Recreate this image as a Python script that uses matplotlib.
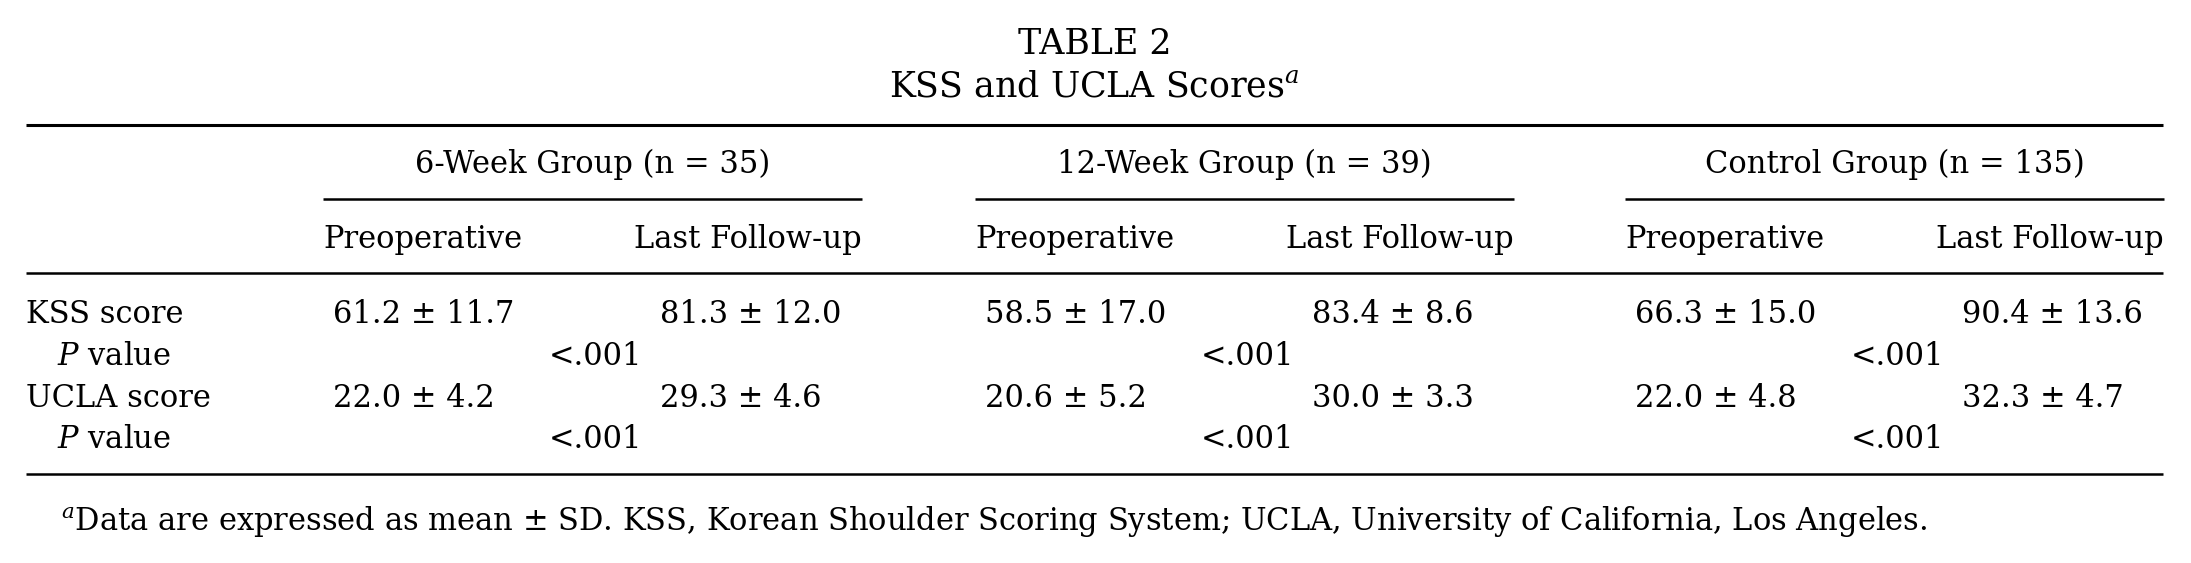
import matplotlib
matplotlib.use("Agg")
import matplotlib.pyplot as plt

plt.rcParams['font.family'] = 'DejaVu Serif'
plt.rcParams['mathtext.fontset'] = 'custom'
plt.rcParams['mathtext.rm'] = 'DejaVu Serif'
plt.rcParams['mathtext.it'] = 'DejaVu Serif:italic'

# table content
groups = ["6-Week Group (n = 35)", "12-Week Group (n = 39)", "Control Group (n = 135)"]
subheads = ["Preoperative", "Last Follow-up"]
rows = ["KSS score", "UCLA score"]
kss_pre = [61.2, 58.5, 66.3]
kss_pre_sd = [11.7, 17.0, 15.0]
kss_last = [81.3, 83.4, 90.4]
kss_last_sd = [12.0, 8.6, 13.6]
ucla_pre = [22.0, 20.6, 22.0]
ucla_pre_sd = [4.2, 5.2, 4.8]
ucla_last = [29.3, 30.0, 32.3]
ucla_last_sd = [4.6, 3.3, 4.7]
p_kss = ["<.001", "<.001", "<.001"]
p_ucla = ["<.001", "<.001", "<.001"]
footnote = ("$^{a}$Data are expressed as mean \u00b1 SD. KSS, Korean Shoulder Scoring System; "
            "UCLA, University of California, Los Angeles.")

W, H = 2191, 563
fig = plt.figure(figsize=(W / 100, H / 100), dpi=100)
ax = fig.add_axes([0, 0, 1, 1])
ax.set_xlim(0, W)
ax.set_ylim(H, 0)
ax.axis('off')

fs = 22
tfs = 25
left, right = 26, 2163
gx = [323, 975, 1625]
gw = 539

def put(x, y, s, ha='left', size=fs):
    ax.text(x, y, s, ha=ha, va='baseline', fontsize=size)

put((left + right) / 2, 54, "TABLE 2", ha='center', size=tfs)
put((left + right) / 2, 98, "KSS and UCLA Scores$^{a}$", ha='center', size=tfs)

ax.hlines(125, left, right, color='black', lw=2.2)
ax.hlines(273, left, right, color='black', lw=1.8)
ax.hlines(474, left, right, color='black', lw=1.8)

def fmt(m, s):
    return f"{m:.1f} \u00b1 {s:.1f}"

row_y = [323, 365, 407, 448]
for i, g in enumerate(groups):
    x0 = gx[i]
    put(x0 + gw / 2, 173, g, ha='center')
    ax.hlines(199, x0, x0 + gw, color='black', lw=1.8)
    put(x0, 248, subheads[0])
    put(x0 + gw, 248, subheads[1], ha='right')
    put(x0 + 10, row_y[0], fmt(kss_pre[i], kss_pre_sd[i]))
    put(x0 + 337, row_y[0], fmt(kss_last[i], kss_last_sd[i]))
    put(x0 + 226, row_y[1], p_kss[i])
    put(x0 + 10, row_y[2], fmt(ucla_pre[i], ucla_pre_sd[i]))
    put(x0 + 337, row_y[2], fmt(ucla_last[i], ucla_last_sd[i]))
    put(x0 + 226, row_y[3], p_ucla[i])

put(left, row_y[0], rows[0])
put(57, row_y[1], "$P$ value")
put(left, row_y[2], rows[1])
put(57, row_y[3], "$P$ value")

put(61, 530, footnote)

fig.savefig("out.png", dpi=100)
